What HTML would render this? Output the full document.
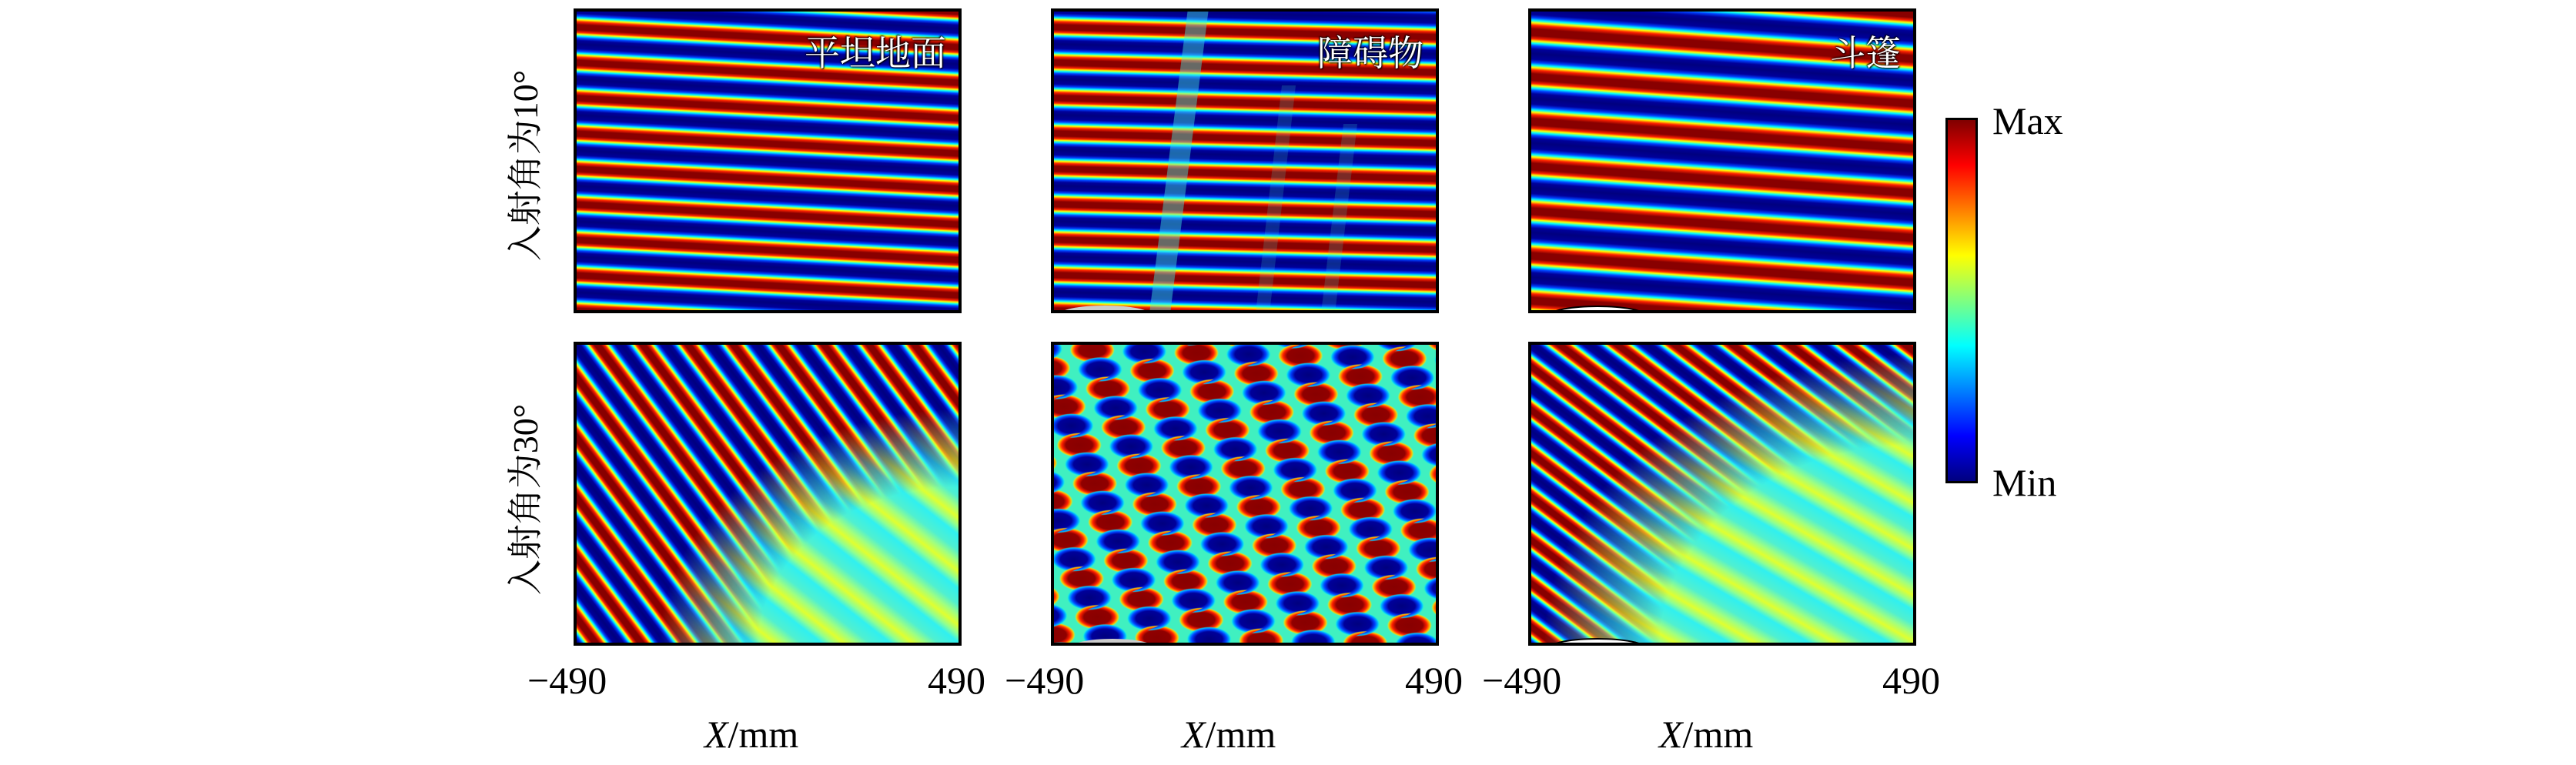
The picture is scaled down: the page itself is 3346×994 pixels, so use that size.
<!DOCTYPE html>
<html><head><meta charset="utf-8"><style>
body{margin:0;background:#fff;}
#c{position:relative;width:3346px;height:994px;overflow:hidden;background:#fff;font-family:"Liberation Serif","Noto Serif CJK SC",serif;}
.p{position:absolute;box-sizing:border-box;border:4px solid #000;overflow:hidden;}
.p svg{position:absolute;left:-4px;top:-4px;}
.t{position:absolute;color:#fff;font-size:46px;font-family:"Noto Serif CJK SC",serif;text-shadow:0 0 2px #000,1px 1px 2px #000,-1px -1px 2px #000;}
.lab{position:absolute;font-size:50px;color:#000;white-space:nowrap;}
.yl{position:absolute;font-size:46px;transform:rotate(-90deg);transform-origin:center;white-space:nowrap;font-family:"Liberation Serif","Noto Serif CJK SC",serif;width:400px;text-align:center;}
</style></head><body><div id="c">
<svg width="0" height="0" style="position:absolute">
<defs>
<linearGradient id="g" x1="0" y1="0" x2="0" y2="1">
<stop offset="0" stop-color="#00007f"/><stop offset=".13" stop-color="#00009a"/><stop offset=".2" stop-color="#0040ff"/><stop offset=".26" stop-color="#00ffff"/><stop offset=".31" stop-color="#ffff00"/><stop offset=".37" stop-color="#ff2000"/><stop offset=".45" stop-color="#880000"/><stop offset=".6" stop-color="#880000"/><stop offset=".67" stop-color="#ff2000"/><stop offset=".72" stop-color="#ffff00"/><stop offset=".77" stop-color="#00ffff"/><stop offset=".83" stop-color="#0040ff"/><stop offset=".9" stop-color="#00009a"/><stop offset="1" stop-color="#00007f"/>
</linearGradient>
<linearGradient id="gl" x1="0" y1="0" x2="0" y2="1">
<stop offset="0" stop-color="#30f0f0"/><stop offset=".3" stop-color="#50f0d0"/><stop offset=".5" stop-color="#a0ff80"/><stop offset=".68" stop-color="#e0ff30"/><stop offset=".85" stop-color="#90ff90"/><stop offset="1" stop-color="#30f0f0"/>
</linearGradient>
<pattern id="s1" width="20" height="46" patternUnits="userSpaceOnUse" patternTransform="rotate(3)"><rect width="20" height="46" fill="url(#g)"/></pattern>
<pattern id="s2" width="20" height="46" patternUnits="userSpaceOnUse" patternTransform="rotate(1.5)"><rect width="20" height="46" fill="url(#g)"/></pattern>
<pattern id="s3" width="20" height="58" patternUnits="userSpaceOnUse" patternTransform="rotate(4)"><rect width="20" height="58" fill="url(#g)"/></pattern>
<pattern id="s4" width="20" height="47" patternUnits="userSpaceOnUse" patternTransform="rotate(53)"><rect width="20" height="47" fill="url(#g)"/></pattern>
<pattern id="s4l" width="20" height="55" patternUnits="userSpaceOnUse" patternTransform="rotate(38)"><rect width="20" height="55" fill="url(#gl)"/></pattern>
<pattern id="s6" width="20" height="45" patternUnits="userSpaceOnUse" patternTransform="rotate(37)"><rect width="20" height="45" fill="url(#g)"/></pattern>
<pattern id="s6l" width="20" height="52" patternUnits="userSpaceOnUse" patternTransform="rotate(30)"><rect width="20" height="52" fill="url(#gl)"/></pattern>
<radialGradient id="mg1" cx="1" cy="1" r="0.95" fx="1" fy="1">
<stop offset="0" stop-color="#fff"/><stop offset=".55" stop-color="#fff"/><stop offset=".82" stop-color="#000"/>
</radialGradient>
<radialGradient id="mg3" cx="1" cy="1" r="1.2" fx="1" fy="1">
<stop offset="0" stop-color="#fff"/><stop offset=".55" stop-color="#fff"/><stop offset=".8" stop-color="#000"/>
</radialGradient>
<mask id="m1" maskContentUnits="userSpaceOnUse"><rect width="504" height="395" fill="url(#mg1)"/></mask>
<mask id="m3" maskContentUnits="userSpaceOnUse"><rect width="504" height="395" fill="url(#mg3)"/></mask>
<radialGradient id="rb"><stop offset="0" stop-color="#00007f"/><stop offset=".6" stop-color="#00009a"/><stop offset=".78" stop-color="#0040ff"/><stop offset=".92" stop-color="#00c0ff"/><stop offset="1" stop-color="#00ffff" stop-opacity="0"/></radialGradient>
<radialGradient id="rr"><stop offset="0" stop-color="#880000"/><stop offset=".6" stop-color="#900000"/><stop offset=".78" stop-color="#ff2000"/><stop offset=".92" stop-color="#ffc000"/><stop offset="1" stop-color="#ffff00" stop-opacity="0"/></radialGradient>
<pattern id="ck" width="62" height="54" patternUnits="userSpaceOnUse" patternTransform="translate(20,10) rotate(-22)">
<rect width="62" height="54" fill="#40f0c0"/>
<ellipse transform="translate(31,13.5) rotate(22)" rx="29" ry="16" fill="url(#rr)"/>
<ellipse transform="translate(31,40.5) rotate(22)" rx="29" ry="16" fill="url(#rb)"/>
<ellipse transform="translate(31,-13.5) rotate(22)" rx="29" ry="16" fill="url(#rb)"/>
<ellipse transform="translate(31,67.5) rotate(22)" rx="29" ry="16" fill="url(#rr)"/>
</pattern>
</defs></svg>

<!-- Row 1 -->
<div class="p" style="left:745px;top:11px;width:504px;height:396px;">
<svg width="504" height="396"><rect width="504" height="396" fill="url(#s1)"/></svg>
<div class="t" style="right:16px;top:18px;">平坦地面</div></div>

<div class="p" style="left:1365px;top:11px;width:504px;height:396px;">
<svg width="504" height="396"><rect width="504" height="396" fill="url(#s2)"/>
<polygon points="178,0 205,0 155,396 128,396" fill="#40e8e0" opacity=".45"/>
<g opacity=".18" fill="#40e8d0"><polygon points="300,100 318,100 284,396 266,396"/><polygon points="380,150 398,150 369,396 351,396"/></g>
<ellipse cx="70" cy="398" rx="60" ry="12" fill="#ccc"/></svg>
<div class="t" style="right:16px;top:18px;">障碍物</div></div>

<div class="p" style="left:1985px;top:11px;width:504px;height:396px;">
<svg width="504" height="396"><rect width="504" height="396" fill="url(#s3)"/>
<ellipse cx="90" cy="399" rx="62" ry="12" fill="#fff" stroke="#000" stroke-width="2"/></svg>
<div class="t" style="right:16px;top:18px;">斗篷</div></div>

<!-- Row 2 -->
<div class="p" style="left:745px;top:444px;width:504px;height:395px;">
<svg width="504" height="395"><rect width="504" height="395" fill="url(#s4)"/><rect width="504" height="395" fill="url(#s4l)" mask="url(#m1)"/></svg></div>

<div class="p" style="left:1365px;top:444px;width:504px;height:395px;">
<svg width="504" height="395"><rect width="504" height="395" fill="url(#ck)"/>
<ellipse cx="80" cy="398" rx="55" ry="12" fill="#ccc"/></svg></div>

<div class="p" style="left:1985px;top:444px;width:504px;height:395px;">
<svg width="504" height="395"><rect width="504" height="395" fill="url(#s6)"/><rect width="504" height="395" fill="url(#s6l)" mask="url(#m3)"/>
<ellipse cx="90" cy="398" rx="62" ry="12" fill="#fff" stroke="#000" stroke-width="2"/></svg></div>

<!-- colorbar -->
<div style="position:absolute;left:2527px;top:153px;width:42px;height:475px;box-sizing:border-box;border:3px solid #000;background:linear-gradient(0deg,#00007f 0,#0000ff 12.5%,#00ffff 37.5%,#ffff00 62.5%,#ff0000 87.5%,#800000 100%);"></div>
<div class="lab" style="left:2588px;top:128px;">Max</div>
<div class="lab" style="left:2588px;top:598px;">Min</div>

<!-- y labels -->
<div class="yl" style="left:479px;top:182px;">入射角为10°</div>
<div class="yl" style="left:479px;top:616px;">入射角为30°</div>

<!-- tick labels -->
<div class="lab" style="left:685px;top:855px;">−490</div>
<div class="lab" style="left:1205px;top:855px;">490</div>
<div class="lab" style="left:1305px;top:855px;">−490</div>
<div class="lab" style="left:1825px;top:855px;">490</div>
<div class="lab" style="left:1925px;top:855px;">−490</div>
<div class="lab" style="left:2445px;top:855px;">490</div>

<div class="lab" style="left:915px;top:925px;"><i>X</i>/mm</div>
<div class="lab" style="left:1535px;top:925px;"><i>X</i>/mm</div>
<div class="lab" style="left:2155px;top:925px;"><i>X</i>/mm</div>
</div></body></html>
